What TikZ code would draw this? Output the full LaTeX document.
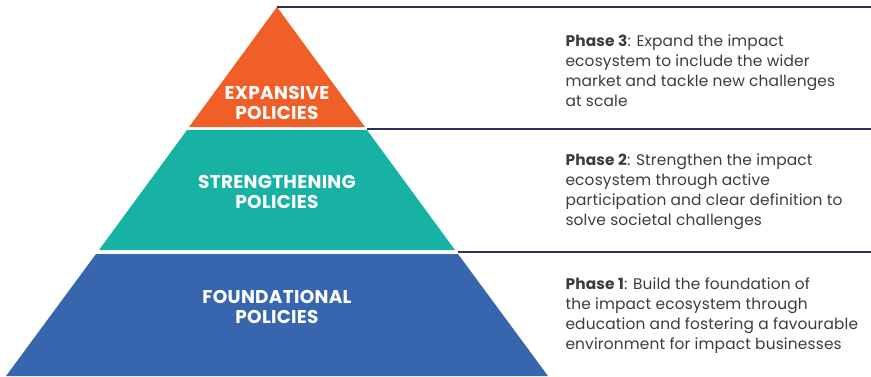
\documentclass[tikz,border=0pt]{standalone}
\usepackage{fontspec}
\setmainfont{Poppins}
\usepackage{xcolor}
\usetikzlibrary{positioning}
\definecolor{expcol}{HTML}{F05F28}
\definecolor{strcol}{HTML}{17B2A3}
\definecolor{fndcol}{HTML}{3765AE}
\definecolor{rulecol}{HTML}{2B3160}
\definecolor{textcol}{HTML}{3C3C3C}

\begin{document}
\begin{tikzpicture}[x=1pt, y=-1pt,
    band/.style={text=white, font=\bfseries\fontsize{18.5}{20}\selectfont\addfontfeature{LetterSpace=1.5}, align=center},
    phase/.style={text=textcol, font=\fontsize{15.4}{20}\selectfont\addfontfeature{LetterSpace=1}, align=left, anchor=west},
    rule/.style={draw=rulecol, line width=2pt}]
    \useasboundingbox (0,0) rectangle (871,376);

    % pyramid bands
    \coordinate (apex) at (277,7);
    \fill[expcol] (apex) -- (365,127) -- (189,127) -- cycle;
    \fill[strcol] (187,130) -- (367,130) -- (455,250) -- (99,250) -- cycle;
    \fill[fndcol] (96,254) -- (458,254) -- (548,376) -- (6,376) -- cycle;

    % rules to the right
    \coordinate (r3) at (871,7);
    \coordinate (s2) at (367,128.5);
    \coordinate (r2) at (871,128.5);
    \coordinate (s1) at (458,252);
    \coordinate (r1) at (871,252);
    \draw[rule] (apex) -- (r3);
    \draw[rule] (s2) -- (r2);
    \draw[rule] (s1) -- (r1);

    % band labels
    \node[band] (exp) at (277,103) {EXPANSIVE\\POLICIES};
    \node[band] (str) at (277,192) {STRENGTHENING\\POLICIES};
    \node[band] (fnd) at (277,307) {FOUNDATIONAL\\POLICIES};

    % phase texts
    \node[phase] (p3) at (562,71) {\textbf{Phase 3}: Expand the impact\\ecosystem to include the wider\\market and tackle new challenges\\at scale};
    \node[phase] (p2) at (562,192) {\textbf{Phase 2}: Strengthen the impact\\ecosystem through active\\participation and clear definition to\\solve societal challenges};
    \node[phase] (p1) at (562,316) {\textbf{Phase 1}: Build the foundation of\\the impact ecosystem through\\education and fostering a favourable\\environment for impact businesses};
\end{tikzpicture}
\end{document}
